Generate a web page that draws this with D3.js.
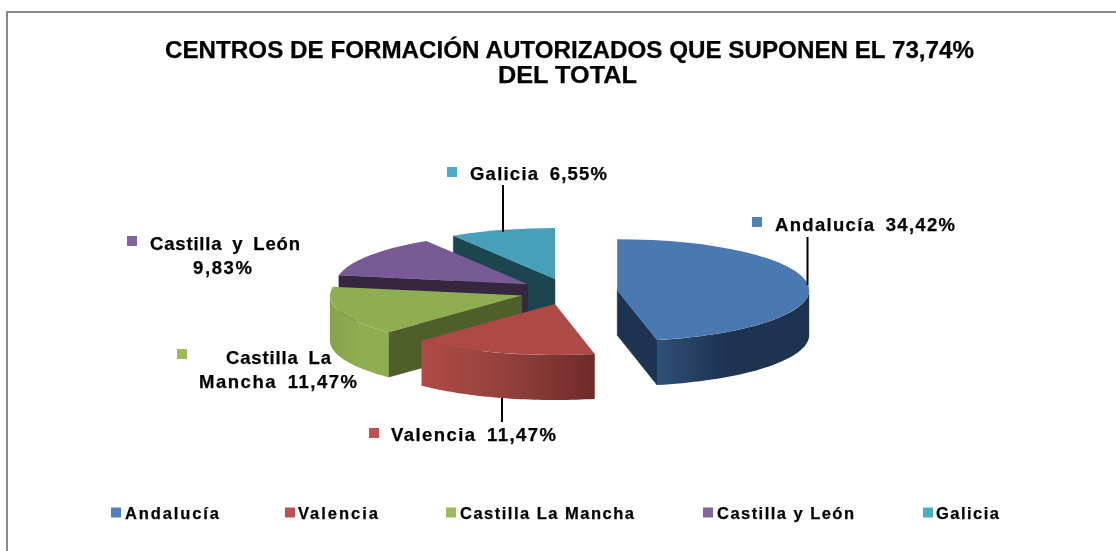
<!DOCTYPE html>
<html><head><meta charset="utf-8">
<script src="https://cdn.jsdelivr.net/npm/d3@7"></script>
<style>
html,body{margin:0;padding:0;background:#fff;overflow:hidden}
svg{display:block;filter:blur(0.4px)}
text{font-family:"Liberation Sans",Arial,sans-serif;font-weight:bold;fill:#000;stroke:#000;stroke-width:.25px}
</style></head><body>
<svg id="c" width="1116" height="551"></svg>
<script>
// ---- data ----
const categories = ["Andalucía","Valencia","Castilla La Mancha","Castilla y León","Galicia"];
const values = [34.42,11.47,11.47,9.83,6.55];
const titleLines = ["CENTROS DE FORMACIÓN AUTORIZADOS QUE SUPONEN EL 73,74%","DEL TOTAL"];

// ---- styles ----
const topColors  = ["#4a78b0","#ad4a46","#8fae52","#785a96","#479fb9"];
const keyColors  = ["#4f81bd","#c0504d","#9bbb59","#8064a2","#4bacc6"];
const faceColors = ["#1e3350","#6f2b28","#4f5f2a","#352740","#1d4550"];
const rimStops   = [["#2f5079","#1e3350","#1e3350"],["#b04b47","#93403c","#6f2b28"],["#86a34c","#8fae52","#8fae52"],["#352740","#352740","#352740"],["#1d4550","#1d4550","#1d4550"]];

// ---- layout ----
const cx=568.5, cy=291.5, rx=192, ry=51, depth=45, explode=0.255;
const paintOrder=[4,3,2,1,0];
const labelLayout=[
 {key:[757,222],lines:[{t:d=>`${d.c} ${d.p}`,x:775,y:231,w:180}],lead:[807.5,285,237]},
 {key:[374,433],lines:[{t:d=>`${d.c} ${d.p}`,x:391,y:441,w:165}],lead:[502,398,422]},
 {key:[182,354],lines:[{t:()=>"Castilla La",x:226,y:364,w:105},{t:d=>`Mancha ${d.p}`,x:199,y:388,w:158}]},
 {key:[132,241],lines:[{t:d=>d.c,x:150,y:250,w:150},{t:d=>d.p,x:193,y:274,w:59}]},
 {key:[452,172],lines:[{t:d=>`${d.c} ${d.p}`,x:470,y:180,w:137}],lead:[503,232,185]}
];
const legendLayout=[{m:111,x:125,w:94},{m:285,x:298,w:80},{m:446,x:460,w:174},{m:703,x:717,w:137},{m:923,x:936,w:63}];

const svg=d3.select("#c");
const defs=svg.append("defs");

// frame
svg.append("path").attr("d","M7,551V12H1116").attr("fill","none").attr("stroke","#8a8a8a").attr("stroke-width",2);

// title
svg.selectAll("text.title").data(titleLines).join("text").attr("class","title")
  .attr("x",(d,i)=>i?567.5:569.5).attr("y",(d,i)=>i?83:58).attr("text-anchor","middle")
  .attr("font-size",23).attr("textLength",(d,i)=>i?139:809).attr("lengthAdjust","spacingAndGlyphs").text(d=>d);

// pie through d3
const pie=d3.pie().sort(null).value(d=>d)(values);
const arc=d3.arc().innerRadius(0).outerRadius(rx);
const xs=d3.scaleLinear().domain([-1,1]).range([-rx,rx]);
const ys=d3.scaleLinear().domain([-1,1]).range([-ry,ry]);
const apex=s=>{const m=(s.startAngle+s.endAngle)/2;
  return [cx+xs(explode*Math.sin(m)),cy+ys(-explode*Math.cos(m))];};
const rimPt=(a,t)=>[a[0]+xs(Math.sin(t)),a[1]+ys(-Math.cos(t))];
const line=d3.line();

const g=svg.append("g");
paintOrder.forEach(i=>{
  const s=pie[i],a=apex(s),s0=s.startAngle,s1=s.endAngle,sg=g.append("g");
  const face=t=>{const p=rimPt(a,t);
    sg.append("path").attr("fill",faceColors[i]).attr("stroke",faceColors[i]).attr("stroke-width",.4)
      .attr("d",line([a,p,[p[0],p[1]+depth],[a[0],a[1]+depth]])+"Z");};
  if(Math.sin(s0)<-1e-6) face(s0);
  if(Math.sin(s1)>1e-6 && s1<Math.PI*2-1e-6) face(s1);
  const t0=Math.max(s0,Math.PI/2),t1=Math.min(s1,Math.PI*3/2);
  if(t1>t0){
    const ts=d3.range(0,41).map(k=>t0+(t1-t0)*k/40);
    const top=ts.map(t=>rimPt(a,t));
    const bot=top.map(p=>[p[0],p[1]+depth]).reverse();
    const xE=d3.extent(top,p=>p[0]);
    const lg=defs.append("linearGradient").attr("id","rim"+i).attr("gradientUnits","userSpaceOnUse")
      .attr("x1",xE[0]).attr("x2",xE[1]).attr("y1",0).attr("y2",0);
    const offs=i===0?[0,.45,1]:[0,.5,1];
    rimStops[i].forEach((c,k)=>lg.append("stop").attr("offset",offs[k]).attr("stop-color",c));
    sg.append("path").attr("fill",`url(#rim${i})`).attr("d",line(top.concat(bot))+"Z");
  }
  sg.append("path").attr("transform",`translate(${a[0]},${a[1]}) scale(1,${ry/rx})`)
    .attr("fill",topColors[i]).attr("d",arc(s));
});

// data labels
const pct=v=>v.toFixed(2).replace(".",",")+"%";
labelLayout.forEach((l,i)=>{
  const d={c:categories[i],p:pct(values[i])};
  if(l.lead) svg.append("line").attr("x1",l.lead[0]).attr("x2",l.lead[0]).attr("y1",l.lead[1]).attr("y2",l.lead[2])
     .attr("stroke","#000").attr("stroke-width",2);
  svg.append("rect").attr("x",l.key[0]-5).attr("y",l.key[1]-5).attr("width",10).attr("height",10).attr("fill",keyColors[i]);
  l.lines.forEach(n=>svg.append("text").attr("x",n.x).attr("y",n.y).attr("font-size",18.5)
     .attr("word-spacing",4).attr("textLength",n.w).attr("lengthAdjust","spacing").text(n.t(d)));
});

// legend
categories.forEach((c,i)=>{
  const l=legendLayout[i];
  svg.append("rect").attr("x",l.m).attr("y",507.5).attr("width",10).attr("height",10).attr("fill",keyColors[i]);
  svg.append("text").attr("x",l.x).attr("y",519).attr("font-size",16.5)
     .attr("textLength",l.w).attr("lengthAdjust","spacing").text(c);
});
</script>
</body></html>
